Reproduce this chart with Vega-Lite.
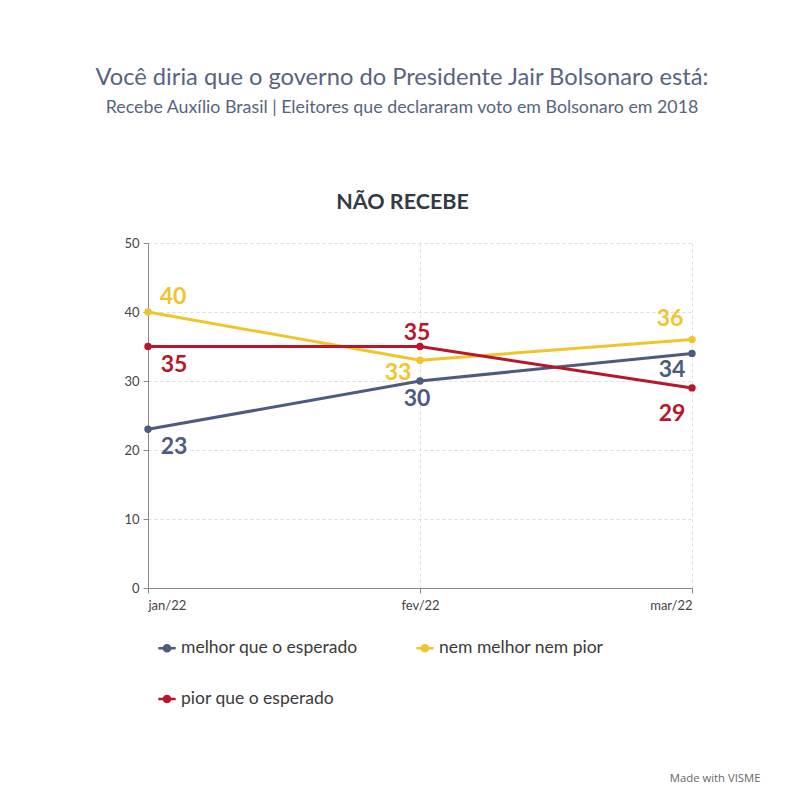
{
  "$schema": "https://vega.github.io/schema/vega-lite/v6.json",
  "autosize": {"type": "none"},
  "width": 544,
  "height": 345,
  "padding": {"left": 148, "top": 243, "right": 108, "bottom": 212},
  "background": "white",
  "config": {"font": "Lato", "view": {"stroke": null}},
  "title": {
    "text": "Você diria que o governo do Presidente Jair Bolsonaro está:",
    "subtitle": "Recebe Auxílio Brasil | Eleitores que declararam voto em Bolsonaro em 2018",
    "fontSize": 23.7,
    "fontWeight": "normal",
    "color": "#56647f",
    "subtitleFontSize": 17.8,
    "subtitleColor": "#56647f",
    "subtitlePadding": 10,
    "anchor": "middle",
    "dx": -18,
    "offset": 74
  },
  "data": {
    "values": [
      {"mes": "jan/22", "serie": "melhor que o esperado", "valor": 23},
      {"mes": "fev/22", "serie": "melhor que o esperado", "valor": 30},
      {"mes": "mar/22", "serie": "melhor que o esperado", "valor": 34},
      {"mes": "jan/22", "serie": "nem melhor nem pior", "valor": 40},
      {"mes": "fev/22", "serie": "nem melhor nem pior", "valor": 33},
      {"mes": "mar/22", "serie": "nem melhor nem pior", "valor": 36},
      {"mes": "jan/22", "serie": "pior que o esperado", "valor": 35},
      {"mes": "fev/22", "serie": "pior que o esperado", "valor": 35},
      {"mes": "mar/22", "serie": "pior que o esperado", "valor": 29}
    ]
  },
  "encoding": {
    "x": {"field": "mes", "type": "ordinal", "sort": ["jan/22", "fev/22", "mar/22"], "scale": {"type": "point", "padding": 0}, "axis": null},
    "y": {"field": "valor", "type": "quantitative", "scale": {"domain": [0, 50]},
      "axis": {"title": null, "values": [0, 10, 20, 30, 40, 50], "labelFontSize": 13, "labelColor": "#444444", "labelPadding": 4, "tickSize": 5, "tickColor": "#888888", "domainColor": "#888888", "grid": true, "gridDash": [3, 3], "gridColor": "#dddddd"}},
    "color": {
      "field": "serie",
      "type": "nominal",
      "scale": {
        "domain": ["melhor que o esperado", "nem melhor nem pior", "pior que o esperado"],
        "range": ["#4e5b80", "#f0c52b", "#b8162a"]
      },
      "legend": {
        "orient": "none",
        "legendX": 10,
        "legendY": 396,
        "direction": "horizontal",
        "columns": 2,
        "columnPadding": 58,
        "rowPadding": 33,
        "title": null,
        "labelFontSize": 17.5,
        "labelLimit": 400,
        "labelColor": "#3a3a3a",
        "labelFont": "Lato",
        "labelOffset": 5,
        "symbolType": "M-1,-0.13H1V0.13H-1Z M0.5,0A0.5,0.5 0 1,1 -0.5,0A0.5,0.5 0 1,1 0.5,0Z",
        "symbolSize": 300,
        "symbolStrokeWidth": 0,
        "encode": {"symbols": {"update": {"fill": {"scale": "color", "field": "value"}, "opacity": {"value": 1}}}}
      }
    }
  },
  "resolve": {"axis": {"x": "independent"}},
  "layer": [
    {
      "mark": {"type": "line", "strokeWidth": 3},
      "encoding": {
        "x": {"field": "mes", "type": "ordinal", "sort": ["jan/22", "fev/22", "mar/22"], "scale": {"type": "point", "padding": 0},
          "axis": {"orient": "bottom", "title": "Made with VISME", "titleFont": "Open Sans", "titleFontSize": 11.3, "titleFontWeight": "normal", "titleColor": "#666666", "titleX": 612, "titleY": 193, "titleAlign": "right", "titleBaseline": "alphabetic",
            "labelAngle": 0, "labelFlush": true, "labelFontSize": 13, "labelColor": "#444444", "labelPadding": 6, "tickSize": 5, "tickColor": "#888888", "domainColor": "#888888",
            "grid": true, "gridDash": [3, 3], "gridColor": "#dddddd"}}
      }
    },
    {
      "mark": {"type": "circle", "size": 55, "opacity": 1},
      "encoding": {
        "x": {"field": "mes", "type": "ordinal", "sort": ["jan/22", "fev/22", "mar/22"], "scale": {"type": "point", "padding": 0},
          "axis": {"orient": "top", "title": "NÃO RECEBE", "labels": false, "ticks": false, "domain": false, "grid": false, "titleFontSize": 21.5, "titleFontWeight": "bold", "titleColor": "#343a44", "titleX": 254, "titleAnchor": "middle", "titleBaseline": "alphabetic", "titlePadding": 35}}
      }
    },
    {
      "transform": [{"filter": "datum.mes == 'jan/22' && datum.serie == 'nem melhor nem pior'"}],
      "mark": {"type": "text", "fontSize": 23, "fontWeight": "bold", "baseline": "alphabetic", "dx": 25, "dy": -8},
      "encoding": {"text": {"field": "valor", "type": "quantitative"}}
    },
    {
      "transform": [{"filter": "datum.mes == 'jan/22' && datum.serie != 'nem melhor nem pior'"}],
      "mark": {"type": "text", "fontSize": 23, "fontWeight": "bold", "baseline": "alphabetic", "dx": 26, "dy": 25},
      "encoding": {"text": {"field": "valor", "type": "quantitative"}}
    },
    {
      "transform": [{"filter": "datum.mes == 'fev/22' && datum.serie == 'pior que o esperado'"}],
      "mark": {"type": "text", "fontSize": 23, "fontWeight": "bold", "baseline": "alphabetic", "dx": -3, "dy": -7},
      "encoding": {"text": {"field": "valor", "type": "quantitative"}}
    },
    {
      "transform": [{"filter": "datum.mes == 'fev/22' && datum.serie == 'melhor que o esperado'"}],
      "mark": {"type": "text", "fontSize": 23, "fontWeight": "bold", "baseline": "alphabetic", "dx": -3, "dy": 25},
      "encoding": {"text": {"field": "valor", "type": "quantitative"}}
    },
    {
      "transform": [{"filter": "datum.mes == 'fev/22' && datum.serie == 'nem melhor nem pior'"}],
      "mark": {"type": "text", "fontSize": 23, "fontWeight": "bold", "baseline": "alphabetic", "dx": -22, "dy": 20},
      "encoding": {"text": {"field": "valor", "type": "quantitative"}}
    },
    {
      "transform": [{"filter": "datum.mes == 'mar/22' && datum.serie == 'nem melhor nem pior'"}],
      "mark": {"type": "text", "fontSize": 23, "fontWeight": "bold", "baseline": "alphabetic", "dx": -22, "dy": -14},
      "encoding": {"text": {"field": "valor", "type": "quantitative"}}
    },
    {
      "transform": [{"filter": "datum.mes == 'mar/22' && datum.serie == 'melhor que o esperado'"}],
      "mark": {"type": "text", "fontSize": 23, "fontWeight": "bold", "baseline": "alphabetic", "dx": -20, "dy": 24},
      "encoding": {"text": {"field": "valor", "type": "quantitative"}}
    },
    {
      "transform": [{"filter": "datum.mes == 'mar/22' && datum.serie == 'pior que o esperado'"}],
      "mark": {"type": "text", "fontSize": 23, "fontWeight": "bold", "baseline": "alphabetic", "dx": -20, "dy": 33},
      "encoding": {"text": {"field": "valor", "type": "quantitative"}}
    }
  ]
}
